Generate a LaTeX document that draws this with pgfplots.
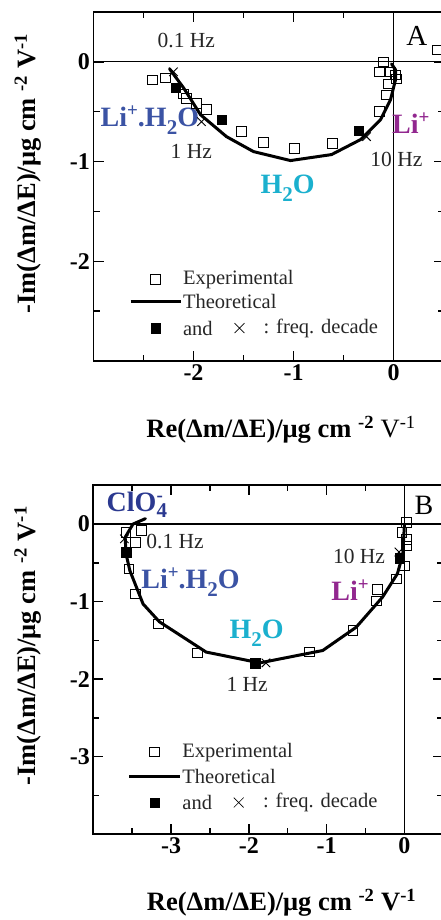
\documentclass[border=0pt]{standalone}
\usepackage{fontspec}
\setmainfont{Liberation Serif}
\usepackage{pgfplots}
\pgfplotsset{compat=1.18}
\definecolor{lihb}{HTML}{3B53A4}
\definecolor{wat}{HTML}{1BB0CE}
\definecolor{lip}{HTML}{92278F}
\definecolor{clo}{HTML}{2B3990}
\newcommand{\fs}[1]{\fontsize{#1}{#1}\selectfont}
\newcommand{\sbs}[1]{\raisebox{-8pt}{\fs{21}#1}}
\newcommand{\sps}[1]{\raisebox{10pt}{\fs{19}#1}}
\pgfplotsset{
 panel/.style={
  scale only axis, width=350pt, height=349pt,
  axis line style={line width=1.8pt},
  every tick/.style={line width=1.5pt, black},
  major tick length=10pt, minor tick length=6pt,
  tick align=inside, xtick pos=both, ytick pos=both,
  ticklabel style={font=\fs{24}\bfseries},
  /pgf/number format/assume math mode=true,
  label style={font=\fs{26.5}\bfseries},
  clip=false,
 },
 osq/.style={only marks, mark=square, mark size=4.8pt, mark options={line width=0.9pt, black}},
 fsq/.style={only marks, mark=square*, mark size=4.8pt, mark options={black, fill=black}},
 crs/.style={only marks, mark=x, mark size=6pt, mark options={line width=0.9pt, black}},
 theo/.style={black, line width=3pt, line join=round, line cap=round, mark=none},
 zl/.style={black, line width=1.3pt, mark=none},
}
\tikzset{
 ann/.style={font=\fs{21.5}, anchor=base west, inner sep=0pt, text=black!85},
 spec/.style={font=\fs{28}\bfseries, anchor=base west, inner sep=0pt},
 leg/.style={font=\fs{20.5}, anchor=west, inner sep=0pt, text=black!85},
}
\begin{document}
\begin{tikzpicture}[x=1pt,y=1pt]
% ---------------- Panel A ----------------
\begin{axis}[panel, at={(93.5pt,559pt)}, anchor=south west,
  xmin=-3, xmax=0.5, ymin=-3, ymax=0.5,
  xtick={-2,-1,0}, minor xtick={-2.5,-1.5,-0.5},
  ytick={-2,-1,0}, minor ytick={-2.5,-1.5,-0.5},
  xlabel={Re(Δm/ΔE)/μg cm \textsuperscript{-2} {\mdseries V\textsuperscript{-1}}},
  ylabel={-Im(Δm/ΔE)/μg cm \textsuperscript{-2} V\textsuperscript{-1}},
  xlabel style={at={(axis description cs:0.536,-0.198)}, anchor=center},
  ylabel style={at={(axis description cs:-0.187,0.537)}, anchor=center},
]
\addplot[zl] coordinates {(0,-3) (0,0.5)};
\addplot[zl] coordinates {(-3,0) (0.5,0)};
\addplot[osq] coordinates {(-2.41,-0.18) (-2.28,-0.16) (-2.10,-0.32) (-2.07,-0.37) (-1.97,-0.42) (-1.87,-0.48) (-1.52,-0.70) (-1.30,-0.81) (-0.99,-0.87) (-0.61,-0.82) (-0.14,-0.50) (-0.07,-0.33) (-0.05,-0.22) (-0.14,-0.10) (-0.03,-0.10) (0.02,-0.13) (0.03,-0.17) (-0.10,0.0) (0.44,0.12)};
\addplot[theo] coordinates {(-2.24,-0.07) (-2.10,-0.26) (-1.93,-0.53) (-1.67,-0.75) (-1.40,-0.90) (-1.03,-0.99) (-0.62,-0.93) (-0.33,-0.78) (-0.13,-0.58) (-0.03,-0.38) (0.02,-0.18) (0.02,-0.08) (-0.02,-0.02)};
\addplot[fsq] coordinates {(-2.18,-0.26) (-1.72,-0.58) (-0.35,-0.69)};
\addplot[crs] coordinates {(-2.20,-0.10) (-1.92,-0.60) (-0.27,-0.75)};
\node[ann] at (axis cs:-2.36,0.14) {0.1 Hz};
\node[ann] at (axis cs:-2.23,-0.97) {1 Hz};
\node[ann] at (axis cs:-0.233,-1.05) {10 Hz};
\node[spec, text=lihb] at (axis cs:-2.93,-0.65) {Li\sps{+}.H\sbs{2}O};
\node[spec, text=wat] at (axis cs:-1.33,-1.32) {H\sbs{2}O};
\node[spec, text=lip] at (axis cs:-0.016,-0.72) {Li\sps{+}};
\node[font=\fs{29}, anchor=base west, inner sep=0pt] at (axis cs:0.127,0.167) {A};
% legend
\addplot[osq] coordinates {(-2.38,-2.18)};
\node[leg] at (axis cs:-2.106,-2.18) {Experimental};
\addplot[theo, line cap=butt] coordinates {(-2.63,-2.40) (-2.13,-2.40)};
\node[leg] at (axis cs:-2.106,-2.40) {Theoretical};
\addplot[fsq] coordinates {(-2.38,-2.67)};
\node[leg] at (axis cs:-2.106,-2.67) {and};
\addplot[crs, mark size=7pt, mark options={line width=0.7pt}] coordinates {(-1.54,-2.67)};
\node[leg] at (axis cs:-1.30,-2.67) {: freq. decade};
\end{axis}
% ---------------- Panel B ----------------
\begin{axis}[panel, at={(93.3pt,85.7pt)}, anchor=south west,
  xmin=-4, xmax=0.5, ymin=-4, ymax=0.5,
  xtick={-3,-2,-1,0}, minor xtick={-3.5,-2.5,-1.5,-0.5},
  ytick={-3,-2,-1,0}, minor ytick={-3.5,-2.5,-1.5,-0.5},
  xlabel={Re(Δm/ΔE)/μg cm \textsuperscript{-2} V\textsuperscript{-1}},
  ylabel={-Im(Δm/ΔE)/μg cm \textsuperscript{-2} V\textsuperscript{-1}},
  xlabel style={at={(axis description cs:0.538,-0.197)}, anchor=center},
  ylabel style={at={(axis description cs:-0.187,0.54)}, anchor=center},
]
\addplot[zl] coordinates {(0,-4) (0,0.5)};
\addplot[zl] coordinates {(-4,0) (0.5,0)};
\addplot[osq] coordinates {(-3.38,-0.08) (-3.58,-0.11) (-3.46,-0.24) (-3.54,-0.58) (-3.46,-0.90) (-3.16,-1.29) (-2.66,-1.66) (-1.22,-1.65) (-0.66,-1.37) (-0.36,-0.99) (-0.35,-0.84) (-0.10,-0.71) (0.0,-0.54) (0.03,-0.28) (0.03,-0.20) (-0.03,-0.11) (0.03,0.02)};
\addplot[theo] coordinates {(-3.33,0.07) (-3.49,0.0) (-3.59,-0.17) (-3.58,-0.38) (-3.53,-0.60) (-3.36,-1.03) (-3.15,-1.26) (-2.55,-1.65) (-1.86,-1.79) (-1.05,-1.63) (-0.62,-1.33) (-0.28,-0.94) (-0.09,-0.64) (-0.02,-0.39) (0,0)};
\addplot[fsq] coordinates {(-3.58,-0.36) (-1.92,-1.79) (-0.06,-0.44)};
\addplot[crs] coordinates {(-3.60,-0.19) (-1.78,-1.79) (-0.07,-0.36)};
\node[ann] at (axis cs:-3.32,-0.31) {0.1 Hz};
\node[ann] at (axis cs:-2.29,-2.165) {1 Hz};
\node[ann] at (axis cs:-0.92,-0.514) {10 Hz};
\node[spec, text=clo] at (axis cs:-3.83,0.16) {ClO\rlap{\sps{-}}\raisebox{-6pt}{\fs{21}4}};
\node[spec, text=lihb] at (axis cs:-3.385,-0.835) {Li\sps{+}.H\sbs{2}O};
\node[spec, text=wat] at (axis cs:-2.25,-1.478) {H\sbs{2}O};
\node[spec, text=lip] at (axis cs:-0.942,-0.986) {Li\sps{+}};
\node[font=\fs{28}, anchor=base west, inner sep=0pt] at (axis cs:0.129,0.129) {B};
% legend
\addplot[osq] coordinates {(-3.21,-2.94)};
\node[leg] at (axis cs:-2.857,-2.94) {Experimental};
\addplot[theo, line cap=butt] coordinates {(-3.535,-3.25) (-2.89,-3.25)};
\node[leg] at (axis cs:-2.857,-3.25) {Theoretical};
\addplot[fsq] coordinates {(-3.21,-3.59)};
\node[leg] at (axis cs:-2.857,-3.59) {and};
\addplot[crs, mark size=7pt, mark options={line width=0.7pt}] coordinates {(-2.13,-3.59)};
\node[leg] at (axis cs:-1.82,-3.59) {: freq. decade};
\end{axis}
\pgfresetboundingbox
\useasboundingbox (0,0) rectangle (441,920);
\end{tikzpicture}
\end{document}
